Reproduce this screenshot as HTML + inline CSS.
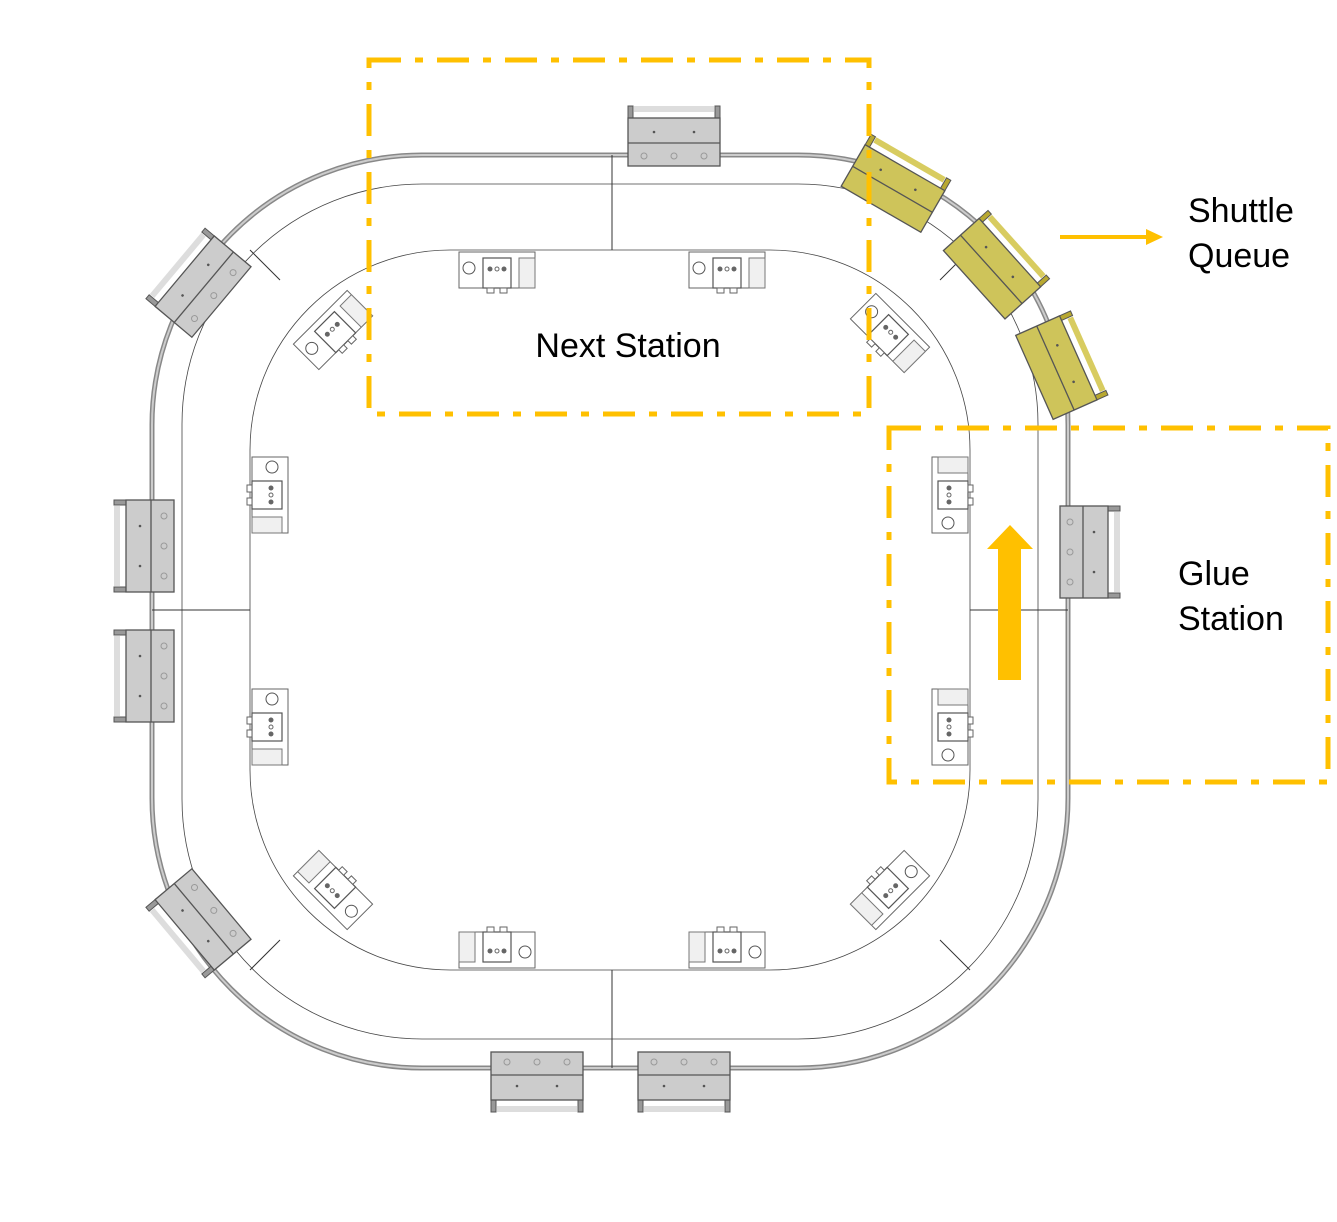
<!DOCTYPE html>
<html><head><meta charset="utf-8"><style>html,body{margin:0;padding:0;background:#fff}svg{display:block}</style></head>
<body>
<svg width="1337" height="1222" viewBox="0 0 1337 1222" xmlns="http://www.w3.org/2000/svg">
<defs>
<g id="sh">
  <rect x="-40" y="-32" width="80" height="6" fill="#ddd"/>
  <rect x="-46" y="-32" width="5" height="14" fill="#999" stroke="#555" stroke-width="1"/>
  <rect x="41" y="-32" width="5" height="14" fill="#999" stroke="#555" stroke-width="1"/>
  <rect x="-46" y="-20" width="92" height="48" fill="#cccccc" stroke="#555" stroke-width="1.3"/>
  <line x1="-46" y1="5" x2="46" y2="5" stroke="#555" stroke-width="1.3"/>
  <circle cx="-20" cy="-6" r="1.3" fill="#555"/><circle cx="20" cy="-6" r="1.3" fill="#555"/>
  <circle cx="-30" cy="18" r="3" fill="none" stroke="#999"/><circle cx="0" cy="18" r="3" fill="none" stroke="#999"/><circle cx="30" cy="18" r="3" fill="none" stroke="#999"/>
</g>
<g id="shy">
  <rect x="-40" y="-32" width="80" height="6" fill="#d8cc60"/>
  <rect x="-46" y="-32" width="5" height="14" fill="#b8a830" stroke="#555" stroke-width="1"/>
  <rect x="41" y="-32" width="5" height="14" fill="#b8a830" stroke="#555" stroke-width="1"/>
  <rect x="-46" y="-20" width="92" height="48" fill="#cec45a" stroke="#555" stroke-width="1.3"/>
  <line x1="-46" y1="5" x2="46" y2="5" stroke="#555" stroke-width="1.3"/>
  <circle cx="-20" cy="-6" r="1.3" fill="#555"/><circle cx="20" cy="-6" r="1.3" fill="#555"/>
</g>
<g id="md">
  <rect x="-38" y="-18" width="76" height="36" fill="#fff" stroke="#666" stroke-width="1"/>
  <rect x="-14" y="-12" width="28" height="30" fill="#fff" stroke="#555" stroke-width="1.2"/>
  <circle cx="-28" cy="-2" r="6" fill="none" stroke="#555"/>
  <circle cx="-7" cy="-1" r="2.5" fill="#666"/><circle cx="0" cy="-1" r="2" fill="none" stroke="#666"/><circle cx="7" cy="-1" r="2.5" fill="#666"/>
  <rect x="-10" y="18" width="7" height="5" fill="#fff" stroke="#666"/><rect x="3" y="18" width="7" height="5" fill="#fff" stroke="#666"/>
  <rect x="22" y="-12" width="16" height="30" fill="#f0f0f0" stroke="#777"/>
</g>
</defs>

<rect x="152" y="155" width="916" height="913" rx="270" fill="none" stroke="#888" stroke-width="5"/>
<rect x="152" y="155" width="916" height="913" rx="270" fill="none" stroke="#ccc" stroke-width="2"/>
<rect x="182" y="184" width="856" height="855" rx="240" fill="none" stroke="#444" stroke-width="0.8"/>
<rect x="250" y="250" width="720" height="720" rx="200" fill="none" stroke="#444" stroke-width="0.8"/>
<g stroke="#333" stroke-width="1">
<line x1="612" y1="155" x2="612" y2="250"/><line x1="612" y1="970" x2="612" y2="1068"/>
<line x1="152" y1="610" x2="250" y2="610"/><line x1="970" y1="610" x2="1068" y2="610"/>
<line x1="250" y1="250" x2="280" y2="280"/><line x1="940" y1="280" x2="970" y2="250"/>
<line x1="250" y1="970" x2="280" y2="940"/><line x1="940" y1="940" x2="970" y2="970"/>
</g>

<use href="#md" transform="translate(497,270)"/>
<use href="#md" transform="translate(727,270)"/>
<use href="#md" transform="translate(497,950) rotate(180)"/>
<use href="#md" transform="translate(727,950) rotate(180)"/>
<use href="#md" transform="translate(270,495) rotate(90)"/>
<use href="#md" transform="translate(270,727) rotate(90)"/>
<use href="#md" transform="translate(950,495) rotate(-90)"/>
<use href="#md" transform="translate(950,727) rotate(-90)"/>
<use href="#md" transform="translate(333,330) rotate(-45)"/>
<use href="#md" transform="translate(890,333) rotate(45)"/>
<use href="#md" transform="translate(333,890) rotate(-135)"/>
<use href="#md" transform="translate(890,890) rotate(135)"/>

<use href="#sh" transform="translate(674,138)"/>
<use href="#sh" transform="translate(146,546) rotate(-90)"/>
<use href="#sh" transform="translate(146,676) rotate(-90)"/>
<use href="#sh" transform="translate(537,1080) rotate(180)"/>
<use href="#sh" transform="translate(684,1080) rotate(180)"/>
<use href="#sh" transform="translate(1088,552) rotate(90)"/>
<use href="#sh" transform="translate(200,284) rotate(-50)"/>
<use href="#sh" transform="translate(200,922) rotate(-130)"/>
<use href="#shy" transform="translate(895,185) rotate(30)"/>
<use href="#shy" transform="translate(995,266) rotate(48)"/>
<use href="#shy" transform="translate(1060,366) rotate(66)"/>

<g fill="none" stroke="#FFC000" stroke-width="5" stroke-dasharray="32 14 8 14">
<rect x="369" y="60" width="500" height="354"/>
<rect x="889" y="428" width="439" height="354"/>
</g>

<line x1="1060" y1="237" x2="1146" y2="237" stroke="#FFC000" stroke-width="4"/>
<polygon points="1146,229 1163,237 1146,245" fill="#FFC000"/>
<rect x="998" y="548" width="23" height="132" fill="#FFC000"/>
<polygon points="987,549 1010,525 1033,549" fill="#FFC000"/>

<g font-family="Liberation Sans, sans-serif" font-size="34" fill="#000">
<text x="628" y="357" text-anchor="middle">Next Station</text>
<text x="1188" y="222">Shuttle</text>
<text x="1188" y="267">Queue</text>
<text x="1178" y="585">Glue</text>
<text x="1178" y="630">Station</text>
</g>
</svg>
</body></html>
